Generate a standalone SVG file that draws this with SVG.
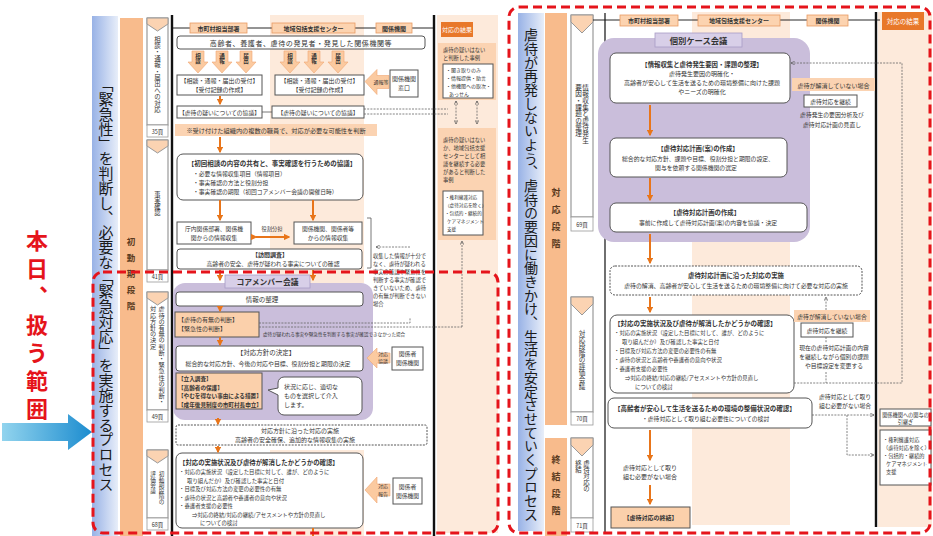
<svg xmlns="http://www.w3.org/2000/svg" width="933" height="536" viewBox="0 0 933 536">
<defs>
<linearGradient id="bandBlue" x1="0" y1="0" x2="1" y2="0"><stop offset="0" stop-color="#98b2e6"/><stop offset="1" stop-color="#e8eef9"/></linearGradient>
<linearGradient id="arrowBlue" x1="0" y1="0" x2="1" y2="0"><stop offset="0" stop-color="#92d4ee"/><stop offset="1" stop-color="#1c8ccf"/></linearGradient>
<marker id="oa" viewBox="0 0 10 10" refX="8" refY="5" markerWidth="3.2" markerHeight="3.2" orient="auto"><path d="M0,0 L10,5 L0,10 z" fill="#e8751a"/></marker>
<marker id="ga" viewBox="0 0 10 10" refX="9" refY="5" markerWidth="6" markerHeight="6" orient="auto-start-reverse"><path d="M1,1 L9,5 L1,9" fill="none" stroke="#555" stroke-width="1.4"/></marker>
<style>
text{font-family:'Noto Sans CJK JP','Noto Sans',sans-serif;fill:#333}
.v{writing-mode:vertical-rl}
.b{font-weight:bold}
.m{text-anchor:middle}
.big{font-size:15px;fill:#1a1a1a}
.box{fill:#fff;stroke:#555;stroke-width:1}
.pk{fill:#fdeadb}
.pl{fill:#fbd3b2}
.pb{fill:#fbd0ab;stroke:#555;stroke-width:1}
.hd{fill:#fcd3b0;stroke:#e89b63;stroke-width:.8}
.res{fill:#e8782a}
.fat{fill:#fbcaa0;stroke:#f0a672;stroke-width:.6}
.stg{fill:#fff;stroke:#999;stroke-width:1.2}
.chev{fill:#fbd3b2;stroke:#999;stroke-width:1}
.pg{fill:#fff;stroke:#999;stroke-width:.8}
.band{fill:#f8bb8c}
.ol{stroke:#e8751a;stroke-width:2;fill:none;marker-end:url(#oa)}
.dl{stroke:#666;stroke-width:.8;fill:none;stroke-dasharray:2 1.2}
.da{stroke:#666;stroke-width:.8;fill:none;stroke-dasharray:2 1.2;marker-end:url(#ga)}
.dd{stroke:#666;stroke-width:.8;fill:none;stroke-dasharray:2 1.2;marker-end:url(#ga);marker-start:url(#ga)}
.blk{stroke:#111;fill:none}
.red{fill:none;stroke:#e5141b;stroke-width:3;stroke-dasharray:9 5}
.purple{fill:#cabedb}
.tab{fill:#d8cfe8;stroke:#a99cc6;stroke-width:.8}
</style>
</defs>

<rect width="933" height="536" fill="#fff"/>

<!-- scope marker on the far left -->
<g id="scope">
  <text class="v b" x="37" y="230" font-size="22" letter-spacing="6" style="fill:#e5141b">本日、扱う範囲</text>
  <polygon points="2,423 68,423 68,414 92,432 68,450 68,441 2,441" fill="url(#arrowBlue)"/>
</g>

<!-- ===== initial-response panel ===== -->
<g id="left-bands">
  <rect x="92" y="16" width="26" height="520" fill="url(#bandBlue)"/>
  <text class="v big" x="106" y="77" letter-spacing="-0.2">「緊急性」を判断し、必要な「緊急対応」を実施するプロセス</text>
  <rect class="band" x="120" y="18" width="23" height="518"/>
  <text class="v b" x="131" y="238" font-size="8.5" letter-spacing="7.5" style="fill:#5a3a20">初動期段階</text>
</g>

<g id="left-stages">
  <rect class="stg" x="147" y="18" width="21" height="107"/>
  <polygon class="chev" points="147,18 168,18 168,24 157.5,31 147,24"/>
  <text class="v" x="157.5" y="36" font-size="6.4">相談・通報・届出への対応</text>
  <rect class="pg" x="147" y="125" width="21" height="12"/><text class="m" x="157.5" y="133.5" font-size="5.5">35頁</text>

  <rect class="stg" x="147" y="140" width="21" height="130"/>
  <polygon class="chev" points="147,140 168,140 168,146 157.5,153 147,146"/>
  <text class="v" x="157.5" y="191" font-size="6.3">事実確認</text>
  <rect class="pg" x="147" y="270" width="21" height="12"/><text class="m" x="157.5" y="278.5" font-size="5.5">41頁</text>

  <rect class="stg" x="147" y="292" width="21" height="118"/>
  <polygon class="chev" points="147,292 168,292 168,298 157.5,305 147,298"/>
  <text class="v" x="161.5" y="306" font-size="6.2">虐待の有無の判断・緊急性の判断・</text>
  <text class="v" x="153" y="306" font-size="6.2">対応方針の決定</text>
  <rect class="pg" x="147" y="410" width="21" height="12"/><text class="m" x="157.5" y="418.5" font-size="5.5">49頁</text>

  <rect class="stg" x="147" y="450" width="21" height="68"/>
  <polygon class="chev" points="147,450 168,450 168,456 157.5,463 147,456"/>
  <text class="v" x="161.5" y="471" font-size="5.6">初動期段階の</text>
  <text class="v" x="153" y="471" font-size="5.6">評価会議</text>
  <rect class="pg" x="147" y="518" width="21" height="12"/><text class="m" x="157.5" y="526.5" font-size="5.5">68頁</text>
</g>

<g id="left-columns">
  <rect class="pk" x="270" y="15" width="94" height="268"/>
  <rect class="pk" x="270" y="450" width="94" height="86"/>
  <rect class="pk" x="437" y="15" width="61" height="518"/>
  <line class="blk" x1="172" y1="15" x2="172" y2="536" stroke-width="2.4"/>
  <line class="blk" x1="434" y1="15" x2="434" y2="536" stroke-width="2.4"/>
  <line class="blk" x1="172" y1="28" x2="435" y2="28" stroke-width="0.9"/>
</g>

<g id="left-header">
  <rect class="hd" x="190" y="23" width="57" height="10"/><text class="m b" x="218.5" y="30.5" font-size="6">市町村担当部署</text>
  <rect class="hd" x="272" y="23" width="83" height="10"/><text class="m b" x="313.5" y="30.5" font-size="6">地域包括支援センター</text>
  <rect class="hd" x="376" y="23" width="36" height="10"/><text class="m b" x="394" y="30.5" font-size="6">関係機関</text>
  <rect class="res" x="441" y="22" width="32" height="15"/><text class="m" x="457" y="32" font-size="6" style="fill:#fff">対応の結果</text>
</g>

<g id="finder">
  <rect class="box" x="177" y="36" width="248" height="13" rx="3"/>
  <text class="m" x="301" y="45.5" font-size="7" letter-spacing="0.6">高齢者、養護者、虐待の発見者・発見した関係機関等</text>
</g>

<g id="report-arrows">
  <path class="fat" d="M192,51h12v11h4l-10,11l-10,-11h4z"/><text class="v b" x="198" y="53" font-size="5.5">相談</text>
  <path class="fat" d="M216,51h12v11h4l-10,11l-10,-11h4z"/><text class="v b" x="222" y="53" font-size="5.5">通報</text>
  <path class="fat" d="M240,51h12v11h4l-10,11l-10,-11h4z"/><text class="v b" x="246" y="53" font-size="5.5">届出</text>
  <path class="fat" d="M284,51h12v11h4l-10,11l-10,-11h4z"/><text class="v b" x="290" y="53" font-size="5.5">相談</text>
  <path class="fat" d="M308,51h12v11h4l-10,11l-10,-11h4z"/><text class="v b" x="314" y="53" font-size="5.5">通報</text>
  <path class="fat" d="M332,51h12v11h4l-10,11l-10,-11h4z"/><text class="v b" x="338" y="53" font-size="5.5">届出</text>
</g>

<g id="receipt-city">
  <rect class="box" x="177" y="75" width="85" height="20" stroke-width="1.3"/>
  <text class="m" x="219.5" y="83" font-size="6">【相談・通報・届出の受付】</text>
  <text class="m" x="219.5" y="92" font-size="6">【受付記録の作成】</text>
</g>
<g id="receipt-center">
  <rect class="box" x="275" y="75" width="89" height="20" stroke-width="1.3"/>
  <text class="m" x="319.5" y="83" font-size="6">【相談・通報・届出の受付】</text>
  <text class="m" x="319.5" y="92" font-size="6">【受付記録の作成】</text>
</g>
<g id="window">
  <path class="fat" d="M365,81.5l12,-12v6h12v13h-12v6z"/>
  <text class="m" x="381" y="84" font-size="5">通報等</text>
  <rect class="box" x="390" y="70" width="28" height="27"/>
  <text class="m" x="404" y="81" font-size="6">関係機関</text>
  <text class="m" x="404" y="90" font-size="6">窓口</text>
</g>

<g id="suspicion-talks">
  <rect class="box" x="177" y="106" width="85" height="12"/>
  <text class="m" x="219.5" y="114.5" font-size="5.8">【虐待の疑いについての協議】</text>
  <rect class="box" x="272" y="106" width="92" height="12"/>
  <text class="m" x="318" y="114.5" font-size="5.8">【虐待の疑いについての協議】</text>
</g>

<g id="screening-note">
  <rect class="pl" x="175" y="124" width="202" height="12"/>
  <text class="m" x="276" y="132.5" font-size="6.2">※受け付けた組織内の複数の職員で、対応が必要な可能性を判断</text>
</g>

<g id="fact-planning">
  <rect class="box" x="177" y="154" width="186" height="46" rx="6"/>
  <text class="m b" x="272" y="166" font-size="6.5">【初回相談の内容の共有と、事実確認を行うための協議】</text>
  <text x="193" y="175.5" font-size="5.8">・必要な情報収集項目（情報項目）</text>
  <text x="193" y="184.5" font-size="5.8">・事実確認の方法と役割分担</text>
  <text x="193" y="193.5" font-size="5.8">・事実確認の期限（初回コアメンバー会議の開催日時）</text>
</g>

<g id="collect-city">
  <rect class="box" x="177" y="222" width="74" height="22"/>
  <text class="m" x="214" y="231" font-size="5.8">庁内関係部署、関係機</text>
  <text class="m" x="214" y="240" font-size="5.8">関からの情報収集</text>
</g>
<g id="collect-center">
  <rect class="box" x="294" y="222" width="68" height="22"/>
  <text class="m" x="328" y="231" font-size="5.8">関係機関、関係者等</text>
  <text class="m" x="328" y="240" font-size="5.8">からの情報収集</text>
</g>
<g id="visit">
  <rect class="box" x="177" y="249" width="185" height="20" rx="3"/>
  <text class="m b" x="270" y="257" font-size="6">【訪問調査】</text>
  <text class="m" x="273" y="266" font-size="5.8">高齢者の安全、虐待が疑われる事実についての確認</text>
</g>

<g id="insufficient-note">
  <text x="373" y="258" font-size="5.3">収集した情報が十分で</text>
  <text x="373" y="266" font-size="5.3">なく、虐待が疑われる</text>
  <text x="373" y="274" font-size="5.3">事実の確認や緊急性を</text>
  <text x="373" y="282" font-size="5.3">判断する事実が確認で</text>
  <text x="373" y="290" font-size="5.3">きていないため、虐待</text>
  <text x="373" y="298" font-size="5.3">の有無が判断できない</text>
  <text x="373" y="306" font-size="5.3">場合</text>
</g>

<!-- core member meeting -->
<g id="core-meeting">
  <rect class="purple" x="173" y="283" width="200" height="137" rx="12"/>
  <rect class="tab" x="225" y="275" width="85" height="13"/>
  <text class="m b" x="267.5" y="285" font-size="7.8">コアメンバー会議</text>
</g>
<g id="sorting">
  <rect class="box" x="176" y="292" width="187" height="14" rx="3"/>
  <text class="m" x="262" y="301.5" font-size="6.5">情報の整理</text>
</g>
<g id="judgement">
  <rect class="pb" x="175" y="312" width="84" height="25"/>
  <text x="178" y="322" font-size="6">【虐待の有無の判断】</text>
  <text x="178" y="331" font-size="6">【緊急性の判断】</text>
</g>
<g id="policy">
  <rect class="box" x="176" y="346" width="187" height="25" rx="3"/>
  <text class="m" x="266" y="355" font-size="6.5">【対応方針の決定】</text>
  <text class="m" x="268" y="365.5" font-size="5.9">総合的な対応方針、今後の対応や目標、役割分担と期限の決定</text>
</g>
<g id="consult">
  <path class="fat" d="M367,358l10,-10v5h13v10h-13v5z"/>
  <text class="m" x="383" y="356" font-size="5">対応</text>
  <text class="m" x="383" y="363" font-size="5">協議</text>
  <rect class="box" x="392" y="347" width="31" height="23"/>
  <text class="m" x="407.5" y="356" font-size="5.8">関係者</text>
  <text class="m" x="407.5" y="365" font-size="5.8">関係機関</text>
</g>
<g id="intervention">
  <rect class="pb" x="176" y="373" width="86" height="36"/>
  <text class="b" x="178" y="381" font-size="5.6">【立入調査】</text>
  <text class="b" x="178" y="389.5" font-size="5.6">【高齢者の保護】</text>
  <text class="b" x="178" y="398" font-size="5.6">【やむを得ない事由による措置】</text>
  <text class="b" x="178" y="406.5" font-size="5.6">【成年後見制度の市町村長申立】</text>
</g>
<g id="intervention-note">
  <path class="box" d="M284,377h72a6,6 0 0 1 6,6v26a6,6 0 0 1 -6,6h-72a6,6 0 0 1 -6,-6v-14l-10,-5l10,-2v-5a6,6 0 0 1 6,-6z"/>
  <text x="284" y="389" font-size="6">状況に応じ、適切な</text>
  <text x="284" y="398" font-size="6">ものを選択して介入</text>
  <text x="284" y="407" font-size="6">します。</text>
</g>

<g id="policy-action">
  <rect class="box" x="176" y="425" width="251" height="20" rx="2" stroke-dasharray="2 1.2" stroke="#777"/>
  <text class="m" x="300" y="433" font-size="6">対応方針に沿った対応の実施</text>
  <text class="m" x="295" y="442" font-size="6">高齢者の安全確保、追加的な情報収集の実施</text>
</g>

<g id="initial-review">
  <rect class="box" x="176" y="453" width="187" height="75" rx="6"/>
  <text class="b" x="179" y="465" font-size="6.4">【対応の実施状況及び虐待が解消したかどうかの確認】</text>
  <text x="179" y="474" font-size="5.4">・対応の実施状況（設定した目標に対して、誰が、どのように</text>
  <text x="187" y="482.5" font-size="5.4">取り組んだか）及び確認した事実と日付</text>
  <text x="179" y="491" font-size="5.4">・目標及び対応方法の変更の必要性の有無</text>
  <text x="179" y="499.5" font-size="5.4">・虐待の状況と高齢者や養護者の意向や状況</text>
  <text x="179" y="508" font-size="5.4">・養護者支援の必要性</text>
  <text x="192" y="516.5" font-size="5.4">⇒対応の終結/対応の継続/アセスメントや方針の見直し</text>
  <text x="200" y="525" font-size="5.4">についての検討</text>
</g>
<g id="report">
  <path class="fat" d="M365,490l12,-13v7h13v12h-13v7z"/>
  <text class="m" x="383" y="488" font-size="5">対応</text>
  <text class="m" x="383" y="496" font-size="5">報告</text>
  <rect class="box" x="393" y="478" width="29" height="26"/>
  <text class="m" x="407.5" y="489" font-size="5.8">関係者</text>
  <text class="m" x="407.5" y="498" font-size="5.8">関係機関</text>
</g>

<g id="result-no-abuse">
  <rect class="pl" x="438" y="43" width="58" height="57"/>
  <text x="443" y="52" font-size="5.3">虐待の疑いはない</text>
  <text x="443" y="60" font-size="5.3">と判断した事例</text>
  <rect class="box" x="443" y="64" width="50" height="34"/>
  <text x="446" y="72" font-size="5">・聞き取りのみ</text>
  <text x="446" y="80" font-size="5">・情報提供・助言</text>
  <text x="446" y="88" font-size="5">・他機関への取次・</text>
  <text x="449" y="96" font-size="5">あっせん</text>
</g>
<g id="result-continue">
  <rect class="pl" x="438" y="128" width="58" height="112"/>
  <text x="443" y="142" font-size="5.3">虐待の疑いはない</text>
  <text x="443" y="150" font-size="5.3">か、地域包括支援</text>
  <text x="443" y="158" font-size="5.3">センターとして相</text>
  <text x="443" y="166" font-size="5.3">談を継続する必要</text>
  <text x="443" y="174" font-size="5.3">があると判断した</text>
  <text x="443" y="182" font-size="5.3">事例</text>
  <rect class="box" x="443" y="191" width="40" height="44"/>
  <text x="445" y="199" font-size="4.6">・権利擁護対応</text>
  <text x="445" y="207" font-size="4.6">（虐待対応を除く）</text>
  <text x="445" y="215" font-size="4.6">・包括的・継続的</text>
  <text x="447" y="223" font-size="4.6">ケアマネジメント</text>
  <text x="447" y="231" font-size="4.6">支援</text>
</g>

<g id="left-connectors">
  <line class="ol" x1="220" y1="96" x2="220" y2="104"/>
  <line x1="262" y1="112" x2="272" y2="112" stroke="#555" stroke-width="0.8"/>
  <path class="dl" d="M364,109H448M364,114H448"/>
  <line class="dd" x1="456" y1="101" x2="456" y2="124"/>
  <line class="dd" x1="477" y1="101" x2="477" y2="124"/>
  <line class="ol" x1="220" y1="137" x2="220" y2="152"/>
  <line class="ol" x1="220" y1="200" x2="220" y2="220"/>
  <line class="ol" x1="313" y1="200" x2="313" y2="220"/>
  <line x1="256" y1="237" x2="289" y2="237" stroke="#e8751a" stroke-width="2" marker-end="url(#oa)" marker-start="url(#oa)"/>
  <text class="m" x="272" y="231" font-size="5.3">役割分担</text>
  <path d="M367,218h4v50h-4" fill="none" stroke="#555" stroke-width="0.8"/>
  <line class="da" x1="410" y1="247" x2="376" y2="247"/>
  <line class="ol" x1="220" y1="270" x2="220" y2="280"/>
  <line class="ol" x1="313" y1="270" x2="313" y2="280"/>
  <line class="ol" x1="220" y1="306" x2="220" y2="311"/>
  <path class="dl" d="M259,323H410V318M259,327H462"/>
  <line class="da" x1="462" y1="327" x2="462" y2="241"/>
  <text x="263" y="336" font-size="4.6">虐待が疑われる事実や緊急性を判断する事実が確認できなかった場合</text>
  <line class="ol" x1="220" y1="337" x2="220" y2="345"/>
  <line class="ol" x1="218" y1="418" x2="218" y2="424"/>
  <line class="ol" x1="218" y1="446" x2="218" y2="452"/>
  <line x1="313" y1="528" x2="313" y2="536" stroke="#e8751a" stroke-width="2"/>
</g>

<rect class="red" x="93" y="272" width="405" height="261" rx="10"/>

<!-- ===== response panel ===== -->
<g id="right-bands">
  <rect x="518" y="13" width="26" height="518" fill="url(#bandBlue)"/>
  <text class="v" x="531" y="28" font-size="14" letter-spacing="-0.3" style="fill:#1a1a1a">虐待が再発しないよう、虐待の要因に働きかけ、生活を安定させていくプロセス</text>
  <rect class="band" x="545" y="13" width="22" height="412"/>
  <text class="v b" x="556" y="188" font-size="9" letter-spacing="8" style="fill:#5a3a20">対応段階</text>
  <rect class="band" x="545" y="438" width="22" height="98"/>
  <text class="v b" x="556" y="455" font-size="9" letter-spacing="8" style="fill:#5a3a20">終結段階</text>
</g>

<g id="right-stages">
  <rect class="stg" x="571" y="15" width="22" height="202"/>
  <polygon class="chev" points="571,15 593,15 593,22 582,33 571,22"/>
  <text class="v" x="585.5" y="84" font-size="6.6">情報収集と虐待発生</text>
  <text class="v" x="578.5" y="84" font-size="6.6">要因・課題の整理</text>
  <rect class="pg" x="571" y="217" width="22" height="14"/><text class="m" x="582" y="226.5" font-size="5.5">69頁</text>

  <rect class="stg" x="571" y="297" width="22" height="115"/>
  <polygon class="chev" points="571,297 593,297 593,304 582,315 571,304"/>
  <text class="v" x="582" y="330" font-size="6.6">対応段階の評価会議</text>
  <rect class="pg" x="571" y="412" width="22" height="13"/><text class="m" x="582" y="421" font-size="5.5">70頁</text>

  <rect class="stg" x="571" y="438" width="22" height="80"/>
  <polygon class="chev" points="571,438 593,438 593,445 582,456 571,445"/>
  <text class="v" x="586.5" y="460" font-size="6.4">虐待対応の</text>
  <text class="v" x="578.5" y="460" font-size="6.4">終結</text>
  <rect class="pg" x="571" y="518" width="22" height="14"/><text class="m" x="582" y="527.5" font-size="5.5">71頁</text>
</g>

<g id="right-columns">
  <rect class="pk" x="692" y="12" width="98" height="513"/>
  <rect class="pk" x="878" y="12" width="54" height="515"/>
  <line x1="605" y1="13" x2="605" y2="533" stroke="#222" stroke-width="1.3"/>
  <line class="blk" x1="876" y1="12" x2="876" y2="527" stroke-width="2.4"/>
  <line class="blk" x1="593" y1="20" x2="880" y2="20" stroke-width="0.9"/>
</g>

<g id="right-header">
  <rect class="hd" x="620" y="15" width="58" height="11"/><text class="m b" x="649" y="23" font-size="6">市町村担当部署</text>
  <rect class="hd" x="698" y="15" width="82" height="11"/><text class="m b" x="739" y="23" font-size="6">地域包括支援センター</text>
  <rect class="hd" x="807" y="15" width="41" height="11"/><text class="m b" x="827.5" y="23" font-size="6">関係機関</text>
  <rect class="res" x="882" y="12" width="42" height="18"/><text class="m" x="903" y="24" font-size="6.5" style="fill:#fff">対応の結果</text>
</g>

<g id="case-meeting">
  <rect class="purple" x="598" y="38" width="212" height="204" rx="16"/>
  <rect class="tab" x="655" y="33" width="87" height="14"/>
  <text class="m b" x="698.5" y="43.5" font-size="8.3">個別ケース会議</text>
</g>
<g id="causes">
  <rect class="box" x="610" y="53" width="180" height="50" rx="6"/>
  <text class="m b" x="702" y="67" font-size="6.4">【情報収集と虐待発生要因・課題の整理】</text>
  <text class="m" x="702" y="76" font-size="6">虐待発生要因の明確化・</text>
  <text class="m" x="702" y="85" font-size="6">高齢者が安心して生活を送るための環境整備に向けた課題</text>
  <text class="m" x="702" y="94" font-size="6">やニーズの明確化</text>
</g>
<g id="plan-draft">
  <rect class="box" x="610" y="138" width="177" height="39" rx="6"/>
  <text class="m b" x="698" y="151" font-size="6.4">【虐待対応計画(案)の作成】</text>
  <text class="m" x="698" y="161" font-size="5.85">総合的な対応方針、課題や目標、役割分担と期限の設定、</text>
  <text class="m" x="696" y="170" font-size="5.85">関与を依頼する関係機関の選定</text>
</g>
<g id="plan">
  <rect class="box" x="610" y="203" width="197" height="29" rx="6"/>
  <text class="m b" x="705" y="215" font-size="6.4">【虐待対応計画の作成】</text>
  <text class="m" x="708" y="225" font-size="5.85">事前に作成して虐待対応計画(案)の内容を協議・決定</text>
</g>
<g id="plan-action">
  <rect class="box" x="610" y="266" width="252" height="29" rx="5" stroke-dasharray="2 1.2" stroke="#777"/>
  <text class="m b" x="736" y="278" font-size="6.4">虐待対応計画に沿った対応の実施</text>
  <text class="m" x="736" y="288" font-size="5.9">虐待の解消、高齢者が安心して生活を送るための環境整備に向けて必要な対応の実施</text>
</g>
<g id="stage-review">
  <rect class="box" x="610" y="315" width="184" height="78" rx="7"/>
  <text class="b" x="614" y="326" font-size="6.5">【対応の実施状況及び虐待が解消したかどうかの確認】</text>
  <text x="614" y="335" font-size="5.4">・対応の実施状況（設定した目標に対して、誰が、どのように</text>
  <text x="622" y="344" font-size="5.4">取り組んだか）及び確認した事実と日付</text>
  <text x="614" y="353" font-size="5.4">・目標及び対応方法の変更の必要性の有無</text>
  <text x="614" y="362" font-size="5.4">・虐待の状況と高齢者や養護者の意向や状況</text>
  <text x="614" y="371" font-size="5.4">・養護者支援の必要性</text>
  <text x="625" y="380" font-size="5.4">⇒対応の終結/対応の継続/アセスメントや方針の見直し</text>
  <text x="635" y="389" font-size="5.4">についての検討</text>
</g>
<g id="environment">
  <rect class="box" x="608" y="398" width="204" height="30" rx="6"/>
  <text class="b" x="614" y="411" font-size="6.5">【高齢者が安心して生活を送るための環境の整備状況の確認】</text>
  <text x="642" y="420.5" font-size="5.8">・虐待対応として取り組む必要性についての検討</text>
</g>
<g id="closing">
  <rect class="pb" x="611" y="507" width="79" height="21"/>
  <text class="m b" x="650.5" y="520" font-size="6">【虐待対応の終結】</text>
</g>

<g id="unresolved-1">
  <rect class="pl" x="792" y="78" width="83" height="13"/>
  <text class="m" x="833.5" y="87.5" font-size="6">虐待が解消していない場合</text>
  <rect class="box" x="804" y="95" width="53" height="12"/>
  <text class="m" x="830.5" y="103.5" font-size="5.8">虐待対応を継続</text>
  <text class="m" x="832" y="117" font-size="5.8">虐待発生の要因分析及び</text>
  <text class="m" x="832" y="127" font-size="5.8">虐待対応計画の見直し</text>
</g>
<g id="unresolved-2">
  <rect class="pl" x="794" y="310" width="76" height="12"/>
  <text class="m" x="832" y="318.5" font-size="5.8">虐待が解消していない場合</text>
  <rect class="box" x="801" y="323" width="52" height="14"/>
  <text class="m" x="827" y="332.5" font-size="5.8">虐待対応を継続</text>
  <text class="m" x="834" y="350" font-size="5.8">現在の虐待対応計画の内容</text>
  <text class="m" x="834" y="359" font-size="5.8">を継続しながら個別の課題</text>
  <text class="m" x="834" y="368" font-size="5.8">や目標設定を変更する</text>
</g>
<g id="no-need">
  <text class="m" x="845" y="399" font-size="5.8">虐待対応として取り</text>
  <text class="m" x="845" y="408" font-size="5.8">組む必要がない場合</text>
</g>
<g id="handover">
  <rect class="box" x="880" y="409" width="51" height="17"/>
  <text class="m" x="905.5" y="416.5" font-size="5.2">関係機関への関与の</text>
  <text class="m" x="905.5" y="424" font-size="5.2">引継ぎ</text>
</g>
<g id="support">
  <rect class="box" x="880" y="430" width="51" height="55"/>
  <text x="883" y="442" font-size="5.2">・権利擁護対応</text>
  <text x="883" y="450" font-size="5.2">（虐待対応を除く）</text>
  <text x="883" y="458" font-size="5.2">・包括的・継続的</text>
  <text x="886" y="466" font-size="5.2">ケアマネジメント</text>
  <text x="886" y="474" font-size="5.2">支援</text>
</g>

<g id="right-connectors">
  <line class="ol" x1="650" y1="105" x2="650" y2="135"/>
  <line class="ol" x1="650" y1="178" x2="650" y2="200"/>
  <line class="ol" x1="650" y1="234" x2="650" y2="263"/>
  <line class="ol" x1="650" y1="297" x2="650" y2="312"/>
  <line class="ol" x1="650" y1="430" x2="650" y2="460"/>
  <text class="m" x="650" y="470" font-size="6">虐待対応として取り</text>
  <text class="m" x="650" y="479" font-size="6">組む必要がない場合</text>
  <line class="ol" x1="650" y1="485" x2="650" y2="504"/>
  <path class="da" d="M794,383H902V63H791"/>
  <line class="da" x1="826" y1="310" x2="826" y2="297"/>
  <path class="dl" d="M826,337V343M826,372V383"/>
  <line class="da" x1="812" y1="415" x2="874" y2="415"/>
  <path class="da" d="M847,415V455H874"/>
</g>

<rect class="red" x="509" y="7" width="421" height="526" rx="10"/>
</svg>
